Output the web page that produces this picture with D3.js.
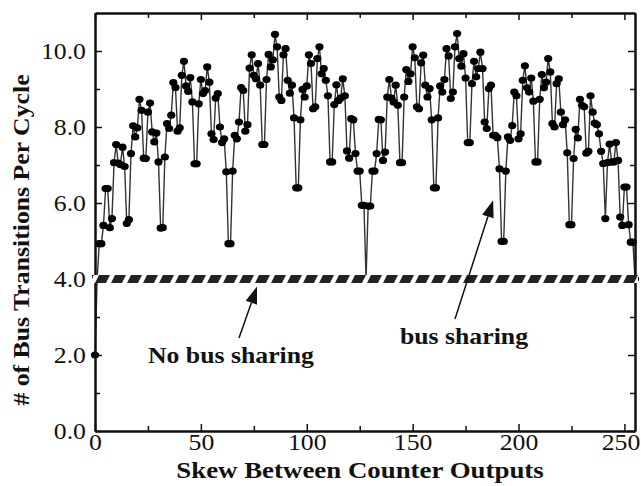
<!DOCTYPE html>
<html>
<head>
<meta charset="utf-8">
<script src="https://cdn.jsdelivr.net/npm/d3@7"></script>
<style>
  body { margin: 0; background: #fff; }
  text { font-family: "Liberation Serif", "Times New Roman", serif; fill: #111; }
</style>
</head>
<body>
<svg id="chart" width="641" height="486"></svg>
<script>
// skew 0..255, one value per skew
var transitions = [
  2.0, 4.0, 4.93, 4.93, 5.41, 6.38, 6.38, 5.35, 5.59, 7.06,
  7.54, 7.05, 7.01, 7.47, 6.96, 5.46, 5.56, 7.30, 8.03, 7.74,
  7.98, 8.73, 8.44, 7.18, 7.17, 8.39, 8.63, 7.87, 7.61, 7.84,
  7.08, 5.34, 5.35, 7.21, 8.09, 7.96, 8.31, 9.17, 9.04, 7.89,
  7.98, 9.36, 9.73, 9.08, 8.94, 9.30, 8.66, 7.03, 7.03, 8.61,
  9.25, 8.88, 8.96, 9.58, 9.18, 7.82, 7.67, 8.76, 8.88, 8.00,
  7.59, 7.69, 6.82, 4.93, 4.93,
  6.84, 7.78, 7.69, 8.13, 9.04,
  8.96, 7.89, 8.06, 9.55, 9.90, 9.36, 9.27, 9.67, 9.10, 7.54,
  7.54, 9.25, 9.91, 9.58, 9.77, 10.44, 10.11, 8.79, 8.70, 9.90,
  10.06, 9.23, 8.89, 9.10, 8.24, 6.40, 6.40, 8.19, 8.99, 8.79,
  9.08, 9.90, 9.67, 8.48, 8.53, 9.80, 10.11, 9.40, 9.54, 9.23,
  8.82, 7.08, 7.08, 8.59, 9.11, 8.70, 8.76, 9.27, 8.82, 7.37,
  7.18, 8.22, 8.19, 7.30, 6.84, 6.84, 5.94, 5.94, 4.0,
  5.92,
  5.92, 6.84, 6.84, 7.30, 8.20, 8.19, 7.12, 7.34, 8.79, 9.25,
  8.76, 8.66, 9.10, 8.57, 7.06, 7.06, 8.79, 9.51, 9.20, 9.40,
  10.11, 9.82, 8.53, 8.48, 9.69, 9.89, 9.10, 8.79, 9.01, 8.19,
  6.40, 6.40, 8.24, 9.08, 8.92, 9.25, 10.06, 9.87, 8.75, 8.92,
  10.11, 10.46, 9.80, 9.60, 9.93, 9.29, 7.59, 7.59, 9.14, 9.73,
  9.32, 9.54, 9.97, 9.54, 8.13, 7.96, 9.01, 9.10, 7.78, 7.78,
  7.72, 6.90, 4.99, 4.99,
  6.84, 7.74, 7.65, 8.04, 8.92, 8.82,
  7.69, 7.82, 9.23, 9.61, 9.03, 8.92, 9.29, 8.68, 7.08, 7.08,
  8.73, 9.38, 9.03, 9.18, 9.80, 9.45, 8.09, 8.00, 9.14, 9.27,
  8.39, 8.06, 8.19, 7.32, 5.43, 5.43, 7.17, 7.94, 7.71, 8.73,
  8.57, 8.53, 7.31, 7.36, 8.82, 8.39, 8.10, 8.06, 7.82, 7.36,
  7.04, 5.59, 7.06, 7.55, 7.08, 7.08, 7.59, 7.12, 5.63, 5.41,
  6.42, 6.42, 5.43, 4.97, 4.97, 4.0
];
var skew = d3.range(transitions.length);

var xMajor = [0, 50, 100, 150, 200, 250];
var xMinor = [25, 75, 125, 175, 225];
var yMajor = [0, 2, 4, 6, 8, 10];
var yMinor = [1, 3, 5, 7, 9];

var sharingLevel = 4.0;   // the hatched "no bus sharing" line

var notes = [
  { label: "No bus sharing", tx: 25, ty: 1.78, from: [68, 2.45], to: [76.5, 3.8] },
  { label: "bus sharing", tx: 144, ty: 2.28, from: [170, 2.95], to: [188, 6.07] }
];

var margin = { top: 13, right: 6, bottom: 55, left: 95 },
    width = 641 - margin.left - margin.right,
    height = 486 - margin.top - margin.bottom;

var stretch = 1.12;   // the type in the original is a bit wide

var x = d3.scaleLinear().domain([0, 255]).range([0, width]);
var y = d3.scaleLinear().domain([0, 11]).range([height, 0]);

var svg = d3.select("#chart");
var chart = svg.append("g")
    .attr("transform", "translate(" + margin.left + "," + margin.top + ")");

// hatch pattern
var defs = svg.append("defs");
var pat = defs.append("pattern")
    .attr("id", "hatch")
    .attr("patternUnits", "userSpaceOnUse")
    .attr("width", 16).attr("height", 8)
    .attr("x", 0).attr("y", y(sharingLevel) - 4);
pat.append("rect").attr("width", 16).attr("height", 8).attr("fill", "#fff");
pat.append("polygon").attr("points", "4,0 15,0 11,8 0,8").attr("fill", "#222");

// data line and markers
var line = d3.line()
    .x(function(d, i) { return x(skew[i]); })
    .y(function(d) { return y(d); });

chart.append("path")
    .datum(transitions)
    .attr("fill", "none")
    .attr("stroke", "#333")
    .attr("stroke-width", 1.4)
    .attr("d", line);

chart.selectAll("ellipse.pt")
    .data(transitions)
    .enter().append("ellipse")
    .attr("class", "pt")
    .attr("cx", function(d, i) { return x(skew[i]); })
    .attr("cy", function(d) { return y(d); })
    .attr("rx", 4.1)
    .attr("ry", 3.6)
    .attr("fill", "#000");

// axes
function styleAxis(g, labels, side) {
  g.select(".domain").attr("stroke", "#111").attr("stroke-width", 2);
  g.selectAll(".tick line").attr("stroke", "#111").attr("stroke-width", 1.5);
  if (!labels) { g.selectAll(".tick text").remove(); return; }
  g.selectAll(".tick text")
    .style("font-family", "'Liberation Serif', 'Times New Roman', serif")
    .style("font-size", "23px")
    .attr("fill", "#111")
    .attr("transform", "scale(" + stretch + ",1)");
  if (side === "left") {
    g.selectAll(".tick text").attr("x", function() { return +d3.select(this).attr("x") / stretch; });
  }
  if (side === "bottom") {
    // keep the last label inside the page, as in the original
    g.selectAll(".tick text").filter(function(d) { return d === 250; }).attr("x", -3.5);
  }
}

chart.append("g")
    .attr("transform", "translate(0," + height + ")")
    .call(d3.axisBottom(x).tickValues(xMajor).tickSize(-7).tickPadding(3).tickSizeOuter(0))
    .call(styleAxis, true, "bottom");
chart.append("g")
    .attr("transform", "translate(0," + height + ")")
    .call(d3.axisBottom(x).tickValues(xMinor).tickSize(-5).tickFormat("").tickSizeOuter(0))
    .call(styleAxis, false);
chart.append("g")
    .call(d3.axisTop(x).tickValues(xMajor).tickSize(-7).tickSizeOuter(0))
    .call(styleAxis, false);
chart.append("g")
    .call(d3.axisTop(x).tickValues(xMinor).tickSize(-5).tickSizeOuter(0))
    .call(styleAxis, false);

chart.append("g")
    .call(d3.axisLeft(y).tickValues(yMajor).tickSize(-7).tickPadding(9).tickSizeOuter(0).tickFormat(d3.format(".1f")))
    .call(styleAxis, true, "left");
chart.append("g")
    .call(d3.axisLeft(y).tickValues(yMinor).tickSize(-5).tickFormat("").tickSizeOuter(0))
    .call(styleAxis, false);
chart.append("g")
    .attr("transform", "translate(" + width + ",0)")
    .call(d3.axisRight(y).tickValues(yMajor).tickSize(-7).tickSizeOuter(0))
    .call(styleAxis, false);
chart.append("g")
    .attr("transform", "translate(" + width + ",0)")
    .call(d3.axisRight(y).tickValues(yMinor).tickSize(-5).tickSizeOuter(0))
    .call(styleAxis, false);

// hatched band at the no-sharing level
chart.append("rect")
    .attr("x", x(0) - 3)
    .attr("y", y(sharingLevel) - 4)
    .attr("width", x(255) - x(0) + 6)
    .attr("height", 8)
    .attr("fill", "url(#hatch)");

// annotations
function arrow(g, from, to) {
  var x1 = x(from[0]), y1 = y(from[1]), x2 = x(to[0]), y2 = y(to[1]);
  var ang = Math.atan2(y2 - y1, x2 - x1), len = 17, half = 6;
  var bx = x2 - len * Math.cos(ang), by = y2 - len * Math.sin(ang);
  g.append("line")
    .attr("x1", x1).attr("y1", y1).attr("x2", bx).attr("y2", by)
    .attr("stroke", "#111").attr("stroke-width", 1.5);
  g.append("polygon")
    .attr("points", [
      [x2, y2],
      [bx + half * Math.sin(ang), by - half * Math.cos(ang)],
      [bx - half * Math.sin(ang), by + half * Math.cos(ang)]
    ].map(function(p) { return p.join(","); }).join(" "))
    .attr("fill", "#111");
}

notes.forEach(function(n) {
  chart.append("text")
    .attr("transform", "translate(" + x(n.tx) + "," + y(n.ty) + ") scale(" + stretch + ",1)")
    .style("font-size", "23px")
    .style("font-weight", "bold")
    .text(n.label);
  arrow(chart, n.from, n.to);
});

// axis titles
svg.append("text")
    .attr("transform", "translate(" + (margin.left + width / 2 - 5) + ",478) scale(" + stretch + ",1)")
    .attr("text-anchor", "middle")
    .style("font-size", "24px")
    .style("font-weight", "bold")
    .text("Skew Between Counter Outputs");

svg.append("text")
    .attr("transform", "translate(29," + (margin.top + height / 2 + 18) + ") rotate(-90) scale(" + stretch + ",1)")
    .attr("text-anchor", "middle")
    .style("font-size", "23px")
    .style("font-weight", "bold")
    .text("# of Bus Transitions Per Cycle");
</script>
</body>
</html>
